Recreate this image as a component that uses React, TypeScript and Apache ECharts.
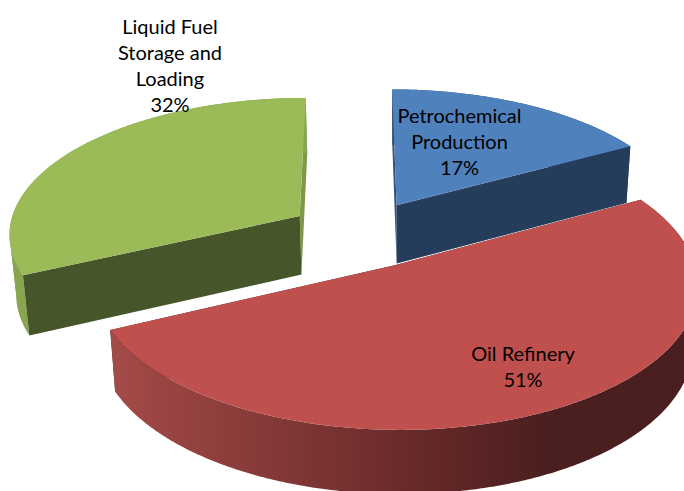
import React, { useEffect, useRef } from "react";
import * as echarts from "echarts";

// Emission shares, clockwise from twelve o'clock.
const sources = ["Petrochemical\nProduction", "Oil Refinery", "Liquid Fuel\nStorage and\nLoading"];
const shares = [17, 51, 32];

// Face colours for each slice.
const topColors = ["#4f81bd", "#c0504d", "#9bbb59"];
const frontCutColors = ["#253c5b", "#4a1e1e", "#47552a"];
const thinCutColors = ["#2f5078", "#4a1e1e", "#7e9848"];
const rimColors: any[] = [
  "#2f5078",
  {
    type: "linear", x: 0, y: 0, x2: 1, y2: 0,
    colorStops: [
      { offset: 0, color: "#a44b48" },
      { offset: 0.5, color: "#6a2a2a" },
      { offset: 0.74, color: "#4b1f1f" },
      { offset: 1, color: "#4a1e1e" },
    ],
  },
  "#89a550",
];
const paintOrder = [1, 5, 1];
const labelCentres = [[459.5, 140.5], [523, 365.5], [170, 64.5]];

// Perspective camera for the tilted pie.
const originX = 360.5;
const originY = 234;
const vanishX = 355;
const radiusX = 292;
const radiusY = 136.5;
const foreshorten = 0.121;
const explode = 0.25;
const thickness = 59;
const baseVanishX = 400;
const baseShrink = 0.983;

const total = shares.reduce((a, b) => a + b, 0);
const rad = (deg: number) => (deg * Math.PI) / 180;

function project(u: number, v: number, base: boolean): number[] {
  const s = 1 / (1 - foreshorten * v);
  const x = vanishX + (originX - vanishX + u * radiusX) * s;
  const y = originY + v * radiusY * s;
  if (!base) return [x, y];
  return [baseVanishX + (x - baseVanishX) * baseShrink, y + thickness + 30 * (s - 1)];
}

function rimPoints(cu: number, cv: number, a0: number, a1: number, base: boolean): number[][] {
  const pts: number[][] = [];
  const steps = Math.ceil((a1 - a0) / 0.5);
  for (let i = 0; i <= steps; i++) {
    const a = rad(a0 + ((a1 - a0) * i) / steps);
    pts.push(project(cu + Math.sin(a), cv - Math.cos(a), base));
  }
  return pts;
}

function renderSlice(params: any, api: any) {
  const i = params.dataIndex;
  const value = api.value(0);
  const before = shares.slice(0, i).reduce((a, b) => a + b, 0);
  const a0 = (before / total) * 360;
  const a1 = a0 + (value / total) * 360;
  const mid = rad((a0 + a1) / 2);
  const cu = explode * Math.sin(mid);
  const cv = -explode * Math.cos(mid);

  const cutFace = (a: number) => {
    const r = rad(a);
    const u = cu + Math.sin(r);
    const v = cv - Math.cos(r);
    return [project(cu, cv, false), project(u, v, false), project(u, v, true), project(cu, cv, true)];
  };
  const poly = (points: number[][], fill: any, z2: number) => ({
    type: "polygon", shape: { points }, style: { fill }, z2, silent: true,
  });

  const base = paintOrder[i] * 10;
  const startVisible = -Math.sin(rad(a0)) > 0.01;
  const endVisible = Math.sin(rad(a1)) > 0.01;
  const top = rimPoints(cu, cv, a0, a1, false);
  const bottom = rimPoints(cu, cv, a0, a1, true);

  // The rim is split at its left silhouette so the straight edge joining the
  // top and base circles is filled where the rim turns out of view.
  let edge = 0;
  top.forEach((p, k) => {
    if (p[0] < top[edge][0]) edge = k;
  });
  const rimFaces =
    edge > 0 && edge < top.length - 1
      ? [
          [...top.slice(0, edge + 1), ...bottom.slice(0, edge + 1).reverse()],
          [...top.slice(edge), ...bottom.slice(edge).reverse()],
        ]
      : [[...top, ...bottom.slice().reverse()]];

  return {
    type: "group",
    children: [
      poly(cutFace(a0), startVisible ? frontCutColors[i] : thinCutColors[i], base + (startVisible ? 2 : 0)),
      poly(cutFace(a1), endVisible ? frontCutColors[i] : thinCutColors[i], base + (endVisible ? 2 : 0)),
      ...rimFaces.map((face) => poly(face, rimColors[i], base + 1)),
      poly([project(cu, cv, false), ...top], topColors[i], base + 3),
      {
        type: "text",
        z2: 200,
        silent: true,
        style: {
          text: `${sources[i]}\n${value}%`,
          x: labelCentres[i][0],
          y: labelCentres[i][1],
          align: "center",
          verticalAlign: "middle",
          fontFamily: "Lato",
          fontSize: 20,
          lineHeight: 26,
          fill: "#000000",
        },
      },
    ],
  };
}

export default function App() {
  const ref = useRef<HTMLDivElement>(null);
  useEffect(() => {
    document.body.style.margin = "0";
    const chart = echarts.init(ref.current!, undefined, { renderer: "svg" });
    chart.setOption({
      animation: false,
      backgroundColor: "#ffffff",
      series: [
        {
          type: "custom",
          coordinateSystem: "none",
          renderItem: renderSlice,
          data: shares.map((s) => [s]),
        },
      ],
    });
    return () => chart.dispose();
  }, []);
  return <div ref={ref} style={{ width: 684, height: 491 }} />;
}
